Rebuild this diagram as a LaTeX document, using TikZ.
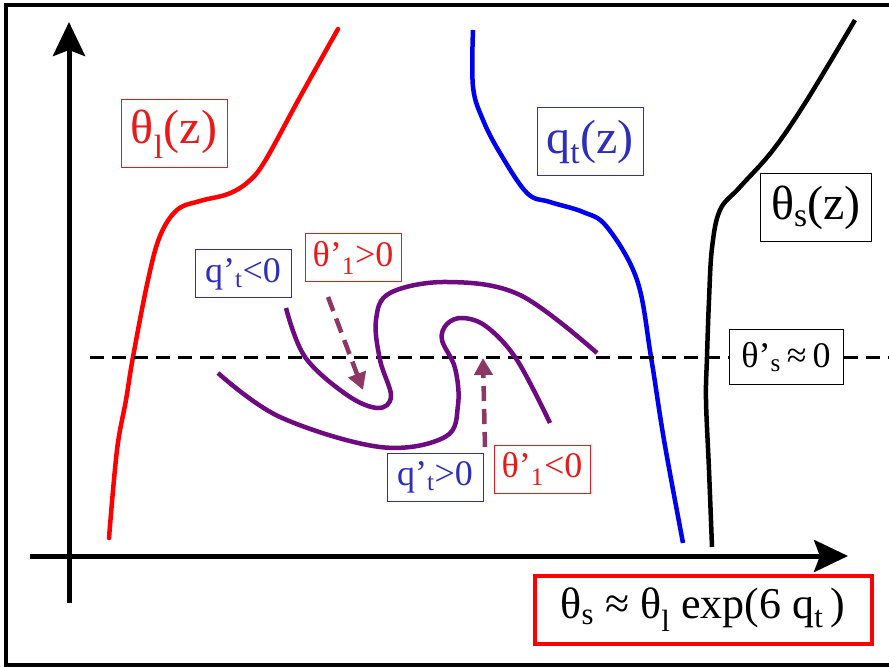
\documentclass[tikz,border=0pt]{standalone}
\usepackage{fontspec}
\setmainfont{Liberation Serif}
\usetikzlibrary{arrows.meta,positioning}
\definecolor{fire}{RGB}{255,0,0}
\definecolor{royal}{RGB}{0,0,240}
\definecolor{tagred}{RGB}{235,25,25}
\definecolor{tagblue}{RGB}{45,45,190}
\definecolor{plum}{RGB}{110,10,130}
\definecolor{mauve}{RGB}{140,55,100}
\tikzset{
  >={Stealth[length=34pt,width=32pt,inset=6pt]},
  axis/.style={->,line width=5pt},
  profile/.style={line width=4.5pt,draw=#1},
  profile/.default=black,
  swirl/.style={line width=4.5pt,draw=plum},
  push/.style={-{Triangle[length=17pt,width=18pt]},line width=4.5pt,draw=mauve,
    dash pattern=on 15pt off 8pt},
  level/.style={line width=3pt,dash pattern=on 14pt off 8pt},
  bigtag/.style={draw=#1,text=#1,line width=1pt,fill=white,inner sep=0pt,
    minimum width=106pt,minimum height=68pt,font=\fontsize{48}{54}\selectfont},
  smalltag/.style={draw=#1,text=#1,line width=1pt,fill=white,inner sep=0pt,
    minimum width=96pt,minimum height=48pt,font=\fontsize{36}{42}\selectfont},
}
\begin{document}
\begin{tikzpicture}[x=1pt,y=-1pt]
  \useasboundingbox (0,0) rectangle (889,668);
  \fill[white] (0,0) rectangle (889,668);
  \draw[line width=4pt] (6,5) rectangle (900,665);
  % axes
  \coordinate (ybot) at (69,603);
  \coordinate (ytop) at (69,22);
  \coordinate (xleft) at (30,556);
  \coordinate (xright) at (848,556);
  \draw[axis] (ybot) -- (ytop);
  \draw[axis] (xleft) -- (xright);
  % profiles
  \draw[profile=fire,line cap=round] plot[smooth,tension=0.6] coordinates {(109,538) (117,450) (126,400) (133,357) (148,280)
    (160,236) (177,210) (200,201) (228,194) (248,182) (265,161) (300,97) (338,29)};
  \draw[profile=royal] plot[smooth,tension=0.6] coordinates {(473,30) (473,87) (483,120) (500,153) (527,193) (550,202)
    (583,212) (607,227) (637,280) (651,357) (664,440) (683,543)};
  \draw[profile] plot[smooth,tension=0.6] coordinates {(712,547) (709,470) (706,400) (707,357) (709,300) (712,248)
    (720,210) (740,187) (773,150) (807,100) (855,20)};
  % mixing level
  \coordinate (lvl) at (90,357);
  \coordinate (lvr) at (889,357);
  \node[draw,line width=1pt,fill=white,inner sep=0pt,minimum width=114pt,minimum height=55pt,
    font=\fontsize{36}{42}\selectfont] (flat) at (786,357) {θ’\textsubscript{s}\,≈\,0};
  \draw[level] (lvl) -- (flat.west);
  \draw[level] (flat.east) -- (lvr);
  % eddy
  \draw[swirl] plot[smooth,tension=0.6] coordinates {(286,308) (305,357) (347,395) (378,408) (391,396) (380,360)
    (376,320) (390,293) (447,282) (520,295) (597,353)};
  \draw[swirl] plot[smooth,tension=0.6] coordinates {(218,373) (280,417) (380,447) (445,437) (458,405) (455,368)
    (442,340) (447,324) (463,318) (487,327) (517,360) (550,423)};
  % labels
  \node[bigtag=tagred] (thl) at (174,134) {θ\textsubscript{l}(z)};
  \node[bigtag=tagblue] (qt) at (590,142) {q\textsubscript{t}(z)};
  \node[bigtag=black,minimum width=111pt] (ths) at (816,208) {θ\textsubscript{s}(z)};
  \node[smalltag=tagblue] (qneg) at (243,274) {q’\textsubscript{t}<0};
  \node[smalltag=tagred] (tpos) at (353,258) {θ’\textsubscript{1}>0};
  \node[smalltag=tagblue] (qpos) at (435,477) {q’\textsubscript{t}>0};
  \node[smalltag=tagred] (tneg) at (542,469) {θ’\textsubscript{1}<0};
  \node[draw=fire,line width=4pt,inner sep=0pt,minimum width=337pt,minimum height=68pt,
    font=\fontsize{44}{50}\selectfont] (law) at (703,610) {θ\textsubscript{s} ≈ θ\textsubscript{l} exp(6 q\textsubscript{t}\,)};
  % tendencies
  \coordinate (d1) at (328,297);
  \coordinate (d1e) at (363,390);
  \coordinate (u1) at (485,447);
  \coordinate (u1e) at (483,358);
  \draw[push] (d1) -- (d1e);
  \draw[push] (u1) -- (u1e);
\end{tikzpicture}
\end{document}
